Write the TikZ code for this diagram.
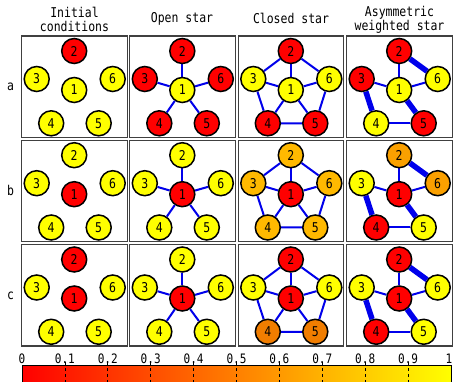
\documentclass[tikz,border=0pt]{standalone}
\usepackage{fontspec}
\newfontfamily\pf[FakeStretch=0.85]{DejaVu Sans Mono}
\pgfdeclarelayer{bg}
\pgfsetlayers{bg,main}
\definecolor{cR}{RGB}{255,0,0}
\definecolor{cY}{RGB}{255,255,0}
\definecolor{cO}{RGB}{255,185,0}
\definecolor{cP}{RGB}{250,160,0}
\definecolor{cQ}{RGB}{240,125,0}
\definecolor{eb}{RGB}{0,0,235}
\tikzset{
  nd/.style={circle,draw=black,line width=1.5pt,minimum size=25pt,inner sep=0pt,font=\pf\fontsize{13.5}{13.5}\selectfont},
  boxst/.style={draw=black!75,line width=1.2pt},
  ln/.style={draw=eb,line width=2pt},
  lnw/.style={draw=eb,line width=5.5pt},
  ttl/.style={font=\pf\fontsize{13.5}{14}\selectfont,align=center,inner sep=0pt},
  rowl/.style={font=\pf\fontsize{13.5}{14}\selectfont,inner sep=0pt},
  tick/.style={font=\pf\fontsize{13}{13}\selectfont,inner sep=0pt}
}
\newcommand\mypanel[9]{%
  \draw[boxst] (#2,#3) rectangle ++(105.5,101.5);
  \node[nd,fill=#4] (#1-1) at (#2+52.5,#3+54) {1};
  \node[nd,fill=#5] (#1-2) at (#2+52.5,#3+15) {2};
  \node[nd,fill=#6] (#1-3) at (#2+15,#3+43) {3};
  \node[nd,fill=#7] (#1-4) at (#2+29.5,#3+87.3) {4};
  \node[nd,fill=#8] (#1-5) at (#2+77,#3+87.3) {5};
  \node[nd,fill=#9] (#1-6) at (#2+91,#3+43) {6};
}
\newcommand\openstar[1]{%
  \begin{pgfonlayer}{bg}
  \foreach \k in {2,...,6} {\draw[ln] (#1-1) -- (#1-\k);}
  \end{pgfonlayer}}
\newcommand\closedstar[1]{%
  \begin{pgfonlayer}{bg}
  \foreach \k in {2,...,6} {\draw[ln] (#1-1) -- (#1-\k);}
  \draw[ln] (#1-2) -- (#1-6) -- (#1-5) -- (#1-4) -- (#1-3) -- (#1-2);
  \end{pgfonlayer}}
\newcommand\asymstar[1]{%
  \begin{pgfonlayer}{bg}
  \draw[ln] (#1-1) -- (#1-2);
  \draw[ln] (#1-1) -- (#1-3);
  \draw[ln] (#1-1) -- (#1-6);
  \draw[ln] (#1-4) -- (#1-5);
  \draw[lnw] (#1-1) -- (#1-5);
  \draw[lnw] (#1-2) -- (#1-6);
  \draw[lnw] (#1-3) -- (#1-4);
  \end{pgfonlayer}}
\begin{document}
\begin{tikzpicture}[x=1pt,y=-1pt]
\begin{pgfonlayer}{bg}
\fill[white] (0,0) rectangle (453,382);
\end{pgfonlayer}
\useasboundingbox (0,0) rectangle (453,382);
% titles
\node[ttl] (t1) at (74.5,19.5) {Initial\\conditions};
\node[ttl] (t2) at (182,18.5) {Open star};
\node[ttl] (t3) at (291,18.5) {Closed star};
\node[ttl] (t4) at (399.5,19.5) {Asymmetric\\weighted star};
% row labels
\node[rowl] (ra) at (10.7,86.5) {a};
\node[rowl] (rb) at (10.7,190) {b};
\node[rowl] (rc) at (10.7,296) {c};
% row a
\mypanel{a1}{21.7}{36}{cY}{cR}{cY}{cY}{cY}{cY}
\mypanel{a2}{129.8}{36}{cY}{cR}{cR}{cR}{cR}{cR}
\mypanel{a3}{238.3}{36}{cY}{cR}{cY}{cR}{cR}{cY}
\mypanel{a4}{346.7}{36}{cY}{cR}{cR}{cY}{cR}{cY}
\openstar{a2}\closedstar{a3}\asymstar{a4}
% row b
\mypanel{b1}{21.7}{140.2}{cR}{cY}{cY}{cY}{cY}{cY}
\mypanel{b2}{129.8}{140.2}{cR}{cY}{cY}{cY}{cY}{cY}
\mypanel{b3}{238.3}{140.2}{cR}{cO}{cO}{cO}{cO}{cO}
\mypanel{b4}{346.7}{140.2}{cR}{cP}{cY}{cR}{cY}{cP}
\openstar{b2}\closedstar{b3}\asymstar{b4}
% row c
\mypanel{c1}{21.7}{244.5}{cR}{cR}{cY}{cY}{cY}{cY}
\mypanel{c2}{129.8}{244.5}{cR}{cY}{cY}{cY}{cY}{cY}
\mypanel{c3}{238.3}{244.5}{cR}{cR}{cY}{cQ}{cQ}{cY}
\mypanel{c4}{346.7}{244.5}{cR}{cR}{cY}{cR}{cY}{cY}
\openstar{c2}\closedstar{c3}\asymstar{c4}
% colour bar
\shade[left color=cR,right color=cY] (22,366) rectangle (451,383);
\draw[line width=1pt] (22,383) -- (22,366) -- (451,366) -- (451,383);
\foreach \i in {1,...,9} {
  \draw[dashed,dash pattern=on 3pt off 3pt,line width=0.8pt] (22+42.9*\i,362) -- (22+42.9*\i,383);
}
\node[tick] (l0) at (22,358.5) {0};
\foreach \i in {1,...,9} {
  \node[tick] (l\i) at (22+42.9*\i,358.5) {0.\i};
}
\node[tick] (l10) at (449,358.5) {1};
\end{tikzpicture}
\end{document}
